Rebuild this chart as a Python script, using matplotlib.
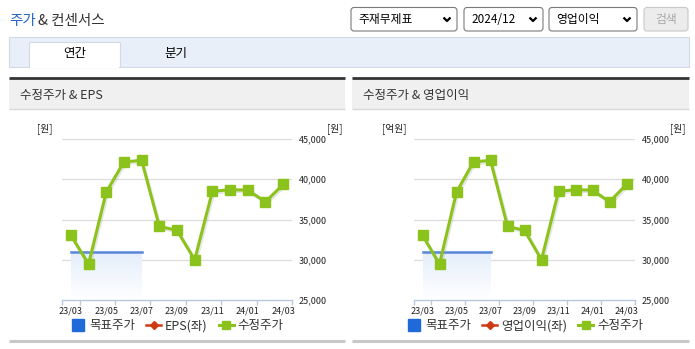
import matplotlib
matplotlib.use("Agg")
import matplotlib.pyplot as plt
import matplotlib.patheffects as pe
from matplotlib.patches import Rectangle, FancyBboxPatch
from matplotlib.lines import Line2D
from matplotlib.colors import LinearSegmentedColormap
import numpy as np

plt.rcParams['font.family'] = ['Noto Sans CJK KR', 'DejaVu Sans']

# data
months = ['23/03', '23/04', '23/05', '23/06', '23/07', '23/08', '23/09',
          '23/10', '23/11', '23/12', '24/01', '24/02', '24/03']
price = [33050, 29450, 38400, 42150, 42350, 34150, 33650,
         30000, 38500, 38700, 38650, 37200, 39350]
target_months = [0, 1, 2, 3, 4]
target = [31000, 31000, 31000, 31000, 31000]
y_ticks = [25000, 30000, 35000, 40000, 45000]

GREEN = '#8cc21c'
BLUE = '#5a88d8'
TXT = '#333333'
W, H = 695, 349

fig = plt.figure(figsize=(W / 100, H / 100), dpi=100)

# page decoration in pixel coordinates
bg = fig.add_axes([0, 0, 1, 1])
bg.set_xlim(0, W)
bg.set_ylim(H, 0)
bg.axis('off')

bg.text(9, 21, '주가', fontsize=10.5, color='#2563c4', va='center', ha='left')
bg.text(38, 21, '& 컨센서스', fontsize=10.5, color=TXT, va='center', ha='left')

# dropdowns
for x0, x1, label in [(351, 457, '주재무제표'), (464, 543, '2024/12'), (549, 637, '영업이익')]:
    bg.add_patch(FancyBboxPatch((x0, 7.5), x1 - x0, 23.5, boxstyle='round,pad=0,rounding_size=3',
                                fc='white', ec='#7a7a7a', lw=0.8))
    bg.text(x0 + 7, 19.5, label, fontsize=8.5, color='black', va='center', ha='left')
    cx = x1 - 10
    bg.plot([cx - 3.5, cx, cx + 3.5], [17.5, 21, 17.5], color='black', lw=1.6,
            solid_capstyle='butt')
bg.add_patch(FancyBboxPatch((644, 7.5), 44, 23.5, boxstyle='round,pad=0,rounding_size=3',
                            fc='#ececec', ec='#c8c8c8', lw=0.8))
bg.text(666, 19.5, '검색', fontsize=8.5, color='#a8a8a8', va='center', ha='center')

# tab bar
bg.add_patch(Rectangle((9, 37), 680, 29.5, fc='#e9eff9', ec='#d2dae8', lw=0.8))
bg.add_patch(Rectangle((29, 42), 91, 25, fc='white', ec='#d2dae8', lw=0.8))
bg.add_patch(Rectangle((29.6, 65), 89.8, 3, fc='white', ec='none'))
bg.text(75, 54, '연간', fontsize=9, color='black', va='center', ha='center')
bg.text(176, 54, '분기', fontsize=9, color='black', va='center', ha='center')

# panels
for x0, x1, head in [(9, 345, '수정주가 & EPS'), (352, 689, '수정주가 & 영업이익')]:
    bg.add_patch(Rectangle((x0, 78), x1 - x0, 31, fc='#f0f0f0', ec='none'))
    bg.plot([x0, x1], [77.5, 77.5], color='#333333', lw=2, solid_capstyle='butt')
    bg.plot([x0, x1], [109, 109], color='#d8d8d8', lw=1, solid_capstyle='butt')
    bg.plot([x0, x1], [341, 341], color='#c8c8c8', lw=2.2, solid_capstyle='butt')
    bg.text(x0 + 11, 95, head, fontsize=9, color=TXT, va='center', ha='left')

fade = LinearSegmentedColormap.from_list('fade', ['#ffffff', '#e4eefb'])


def draw_chart(px0, px1, left_unit, series_name, lx, rx):
    top, bottom = 139, 300
    ax = fig.add_axes([px0 / W, (H - bottom) / H, (px1 - px0) / W, (bottom - top) / H])
    ax.set_facecolor('none')
    x = np.arange(len(months))
    ax.set_xlim(-0.5, len(months) - 0.5)
    ax.set_ylim(y_ticks[0], y_ticks[-1])

    for v in y_ticks[1:]:
        ax.axhline(v, color='#dcdcdc', lw=0.9, zorder=0)

    # target price band
    ax.imshow(np.linspace(0, 1, 100).reshape(-1, 1), cmap=fade, aspect='auto', origin='lower',
              extent=(target_months[0], target_months[-1], y_ticks[0], target[0]), zorder=1)
    ax.plot(target_months, target, color=BLUE, lw=1.8, zorder=2)

    ax.plot(x, price, color=GREEN, lw=2.2, zorder=3,
            path_effects=[pe.SimpleLineShadow(offset=(1.0, -1.3), shadow_color='#999999', alpha=0.25),
                          pe.Normal()])
    ax.plot(x, price, ls='none', marker='s', ms=6.5, color=GREEN, zorder=4)

    for s in ['top', 'left', 'right']:
        ax.spines[s].set_visible(False)
    ax.spines['bottom'].set_color('#b9c9dd')
    ax.spines['bottom'].set_linewidth(1)

    ax.set_xticks(x[::2])
    ax.set_xticklabels(months[::2], fontsize=6.5, color='#222222')
    ax.set_xticks(np.r_[-0.5, np.arange(0.5, len(months), 2)], minor=True)
    ax.tick_params(axis='x', which='major', length=0, pad=5)
    ax.tick_params(axis='x', which='minor', length=3.5, color='#b9c9dd', width=1)

    ax.yaxis.tick_right()
    ax.set_yticks(y_ticks)
    ax.set_yticklabels([f'{v:,}' for v in y_ticks], fontsize=6.5, color='#222222')
    ax.tick_params(axis='y', length=0, pad=5)

    bg.text(lx, 129, left_unit, fontsize=7, color='#222222', ha='center', va='center')
    bg.text(rx, 129, '[원]', fontsize=7, color='#222222', ha='center', va='center')

    handles = [Line2D([], [], ls='none', marker='s', ms=8, color='#1f6ad8'),
               Line2D([], [], color='#d03a10', lw=1.8, marker='D', ms=4),
               Line2D([], [], color=GREEN, lw=2.2, marker='s', ms=5.5)]
    leg = ax.legend(handles, ['목표주가', series_name, '수정주가'], loc='center',
                    bbox_to_anchor=(0.5, -0.16), ncol=3, frameon=False, fontsize=9,
                    handlelength=1.2, handletextpad=0.3, columnspacing=0.9,
                    borderaxespad=0)
    for t in leg.get_texts():
        t.set_color('#333333')
    return ax


draw_chart(62, 292, '[원]', 'EPS(좌)', 45, 335)
draw_chart(414, 635, '[억원]', '영업이익(좌)', 394, 678)

fig.savefig('out.png', dpi=100)
